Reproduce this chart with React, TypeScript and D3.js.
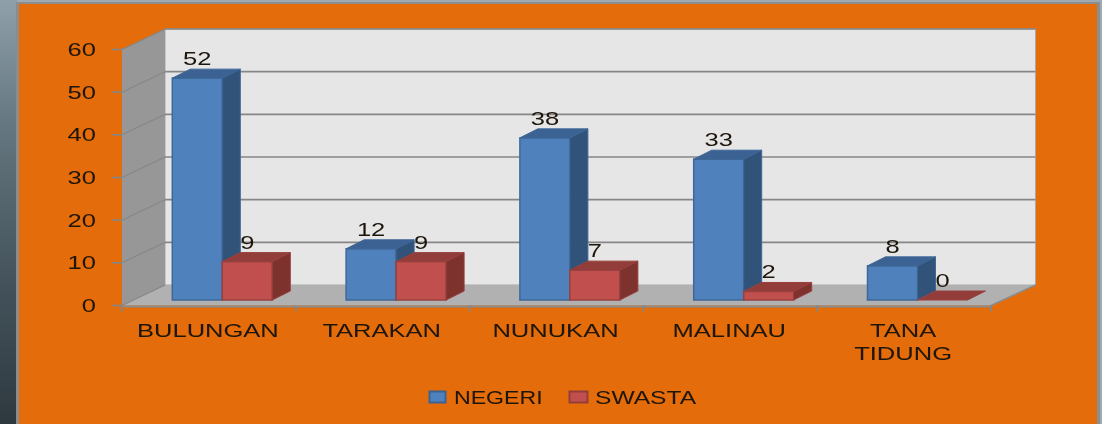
import React from "react";
import * as d3 from "d3";

const categories = ["BULUNGAN", "TARAKAN", "NUNUKAN", "MALINAU", "TANA TIDUNG"];
const negeri = [52, 12, 38, 33, 8];
const swasta = [9, 9, 7, 2, 0];
const yTicks = [0, 10, 20, 30, 40, 50, 60];
const seriesNames = ["NEGERI", "SWASTA"];

const W = 1102, H = 424;
const x0 = 122, x1 = 991, yBase = 305.5, yTop = 49.5;
const wallDx = 43, wallDy = -20.5;
const barDx = 18, barDy = -9, barGapY = 5.5, barOffset = 50.3, barW = 50;
const FONT = "'Liberation Sans', Arial, sans-serif";
const INK = "#1c1408";

const xScale = d3.scaleBand<string>().domain(categories).range([x0, x1]);
const yScale = d3.scaleLinear().domain([0, 60]).range([yBase, yTop]);
const pts = (p: [number, number][]) => p.map((q) => q.join(",")).join(" ");

function T({ x, y, children, anchor = "middle", size = 18.5, sx = 1.38, fill = INK }: any) {
  return (
    <text transform={`translate(${x},${y}) scale(${sx},1)`} textAnchor={anchor} fontFamily={FONT}
      fontSize={size} fill={fill}>{children}</text>
  );
}

function Bar({ x, v, front, top, side, stroke }: any) {
  const b = yScale(0) - barGapY;
  const t = yScale(v) - barGapY;
  const r = x + barW;
  return (
    <g stroke={stroke} strokeWidth={1}>
      {v > 0 && <rect x={x} y={t} width={barW} height={b - t} fill={front} strokeWidth={1.5} />}
      <polygon points={pts([[x, t], [x + barDx, t + barDy], [r + barDx, t + barDy], [r, t]])} fill={top} />
      {v > 0 && <polygon points={pts([[r, t], [r + barDx, t + barDy], [r + barDx, b + barDy], [r, b]])} fill={side} />}
    </g>
  );
}

export default function App() {
  return (
    <svg width={W} height={H} viewBox={`0 0 ${W} ${H}`} style={{ position: "fixed", left: 0, top: 0, display: "block" }}>
      <defs>
        <linearGradient id="strip" x1="0" y1="0" x2="0" y2="1">
          <stop offset="0" stopColor="#8fa0aa" />
          <stop offset="0.3" stopColor="#64767f" />
          <stop offset="0.65" stopColor="#45545d" />
          <stop offset="1" stopColor="#2e393f" />
        </linearGradient>
        <filter id="soft" x="-5%" y="-5%" width="110%" height="110%">
          <feGaussianBlur stdDeviation="0.5" />
        </filter>
      </defs>
      <rect width={W} height={H} fill="#a0a9b2" />
      <rect x={0} y={0} width={17} height={H} fill="url(#strip)" />
      <rect x={16} y={2} width={1084} height={H} fill="#8b8d8e" />
      <rect x={19} y={4} width={1078} height={H} fill="#e46c0a" />

      <g filter="url(#soft)">
        {/* Walls and floor */}
        <polygon points={pts([[x0 + wallDx, yTop + wallDy], [x1 + wallDx + 1.5, yTop + wallDy], [x1 + wallDx + 1.5, yBase + wallDy], [x0 + wallDx, yBase + wallDy]])} fill="#e6e6e6" stroke="#a8a8a8" />
        <polygon points={pts([[x0, yTop], [x0 + wallDx, yTop + wallDy], [x0 + wallDx, yBase + wallDy], [x0, yBase]])} fill="#979797" />
        <polygon points={pts([[x0, yBase], [x0 + wallDx, yBase + wallDy], [x1 + wallDx + 1.5, yBase + wallDy], [x1, yBase]])} fill="#b1b1b1" />

        {/* Gridlines and value ticks */}
        {yTicks.map((t) => (
          <g key={t} stroke="#868686">
            {t > 0 && <line x1={x0 + wallDx} x2={x1 + wallDx + 1.5} y1={yScale(t) + wallDy} y2={yScale(t) + wallDy} strokeWidth={1.6} />}
            <line x1={x0} x2={x0 + wallDx} y1={yScale(t)} y2={yScale(t) + wallDy} strokeWidth={1.2} />
            <line x1={x0 - 10} x2={x0} y1={yScale(t)} y2={yScale(t)} strokeWidth={1.6} />
          </g>
        ))}
        <line x1={x0} x2={x1} y1={yBase + 1} y2={yBase + 1} stroke="#8c8c8c" strokeWidth={2} />
        <line x1={x1} x2={x1 + wallDx + 1.5} y1={yBase} y2={yBase + wallDy} stroke="#8c8c8c" strokeWidth={1.5} />
        {categories.concat("end").map((c, i) => {
          const tx = x0 + i * xScale.bandwidth();
          return <line key={c} x1={tx} x2={tx} y1={yBase} y2={yBase + 6} stroke="#868686" strokeWidth={2} />;
        })}

        {/* Bars */}
        {categories.map((c, i) => {
          const bx = (xScale(c) as number) + barOffset;
          return (
            <g key={c}>
              <Bar x={bx} v={negeri[i]} front="#4f81bd" top="#3a6292" side="#315379" stroke="#3f6797" />
              <Bar x={bx + barW} v={swasta[i]} front="#c0504d" top="#933c3a" side="#7d302e" stroke="#98403d" />
            </g>
          );
        })}

        {/* Data labels */}
        {categories.map((c, i) => {
          const bx = (xScale(c) as number) + barOffset;
          return (
            <g key={c}>
              <T x={bx + barW / 2} y={yScale(negeri[i]) - barGapY - 13}>{negeri[i]}</T>
              <T x={bx + barW * 1.5} y={yScale(swasta[i]) - barGapY - 13}>{swasta[i]}</T>
            </g>
          );
        })}

        {/* Value axis labels */}
        {yTicks.map((t) => (
          <T key={t} x={96} y={yScale(t) + 6.5} anchor="end">{t}</T>
        ))}

        {/* Category labels */}
        {categories.map((c) => {
          const cx = (xScale(c) as number) + xScale.bandwidth() / 2;
          const words = c === "TANA TIDUNG" ? c.split(" ") : [c];
          return words.map((w, j) => (
            <T key={w} x={cx - 1} y={336.5 + j * 23}>{w}</T>
          ));
        })}

        {/* Legend */}
        <rect x={429.5} y={391.5} width={16} height={11} fill="#4f81bd" stroke="#3a6292" strokeWidth={2} />
        <T x={454} y={403.5} anchor="start" sx={1.25}>{seriesNames[0]}</T>
        <rect x={569.5} y={391.5} width={18} height={11} fill="#c0504d" stroke="#933c3a" strokeWidth={2} />
        <T x={595} y={403.5} anchor="start" sx={1.33}>{seriesNames[1]}</T>
      </g>
    </svg>
  );
}
